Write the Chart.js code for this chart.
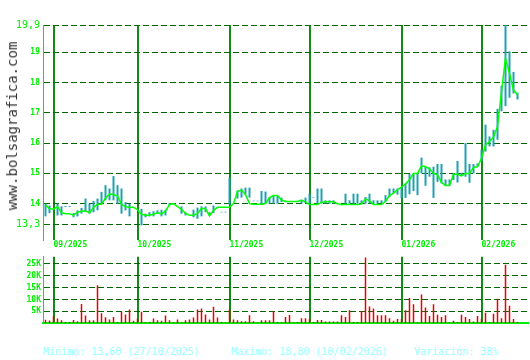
<!DOCTYPE html>
<html>
<head>
<meta charset="utf-8">
<script src="https://cdn.jsdelivr.net/npm/chart.js@4.4.1/dist/chart.umd.min.js"></script>
<style>
  body { margin: 0; background: #fff; }
  #wrap { position: relative; width: 530px; height: 360px; overflow: hidden; }
  canvas { position: absolute; left: 0; }
  #priceChart { top: 0; }
  #volChart { top: 250px; }
  .mark { position: absolute; left: 12px; top: 126px; transform: translate(-50%, -50%) rotate(-90deg);
          font: 14px "DejaVu Sans Mono", monospace; color: #333; white-space: nowrap; }
  .foot { position: absolute; top: 346px; font: 10px "DejaVu Sans Mono", monospace; color: #99ffff;
          line-height: 12px; white-space: nowrap; }
</style>
</head>
<body>
<div id="wrap">
  <canvas id="priceChart" width="530" height="250"></canvas>
  <canvas id="volChart" width="530" height="80"></canvas>
  <div class="mark">www.bolsagrafica.com</div>
  <div class="foot" style="left:43px">Minimo: 13,60 (27/10/2025)</div>
  <div class="foot" style="left:231px">Maximo: 18,80 (10/02/2026)</div>
  <div class="foot" style="left:414px">Variación: 38%</div>
</div>
<script>
// month ticks (index of first session of each month)
const monthLabels = ['09/2025', '10/2025', '11/2025', '12/2025', '01/2026', '02/2026'];
const monthStarts = [2, 23, 46, 66, 89, 109];

// daily close
const close = [
  13.95, 13.83, 13.82, 13.9, 13.7, 13.67, 13.67, 13.62, 13.72, 13.75,
  13.76, 13.7, 13.88, 13.98, 13.98, 14.18, 14.32, 14.3, 14.25, 13.98,
  13.9, 13.88, 13.88, 13.8, 13.65, 13.62, 13.62, 13.65, 13.7, 13.66,
  13.75, 13.97, 14.0, 13.9, 13.81, 13.68, 13.62, 13.62, 13.68, 13.85,
  13.83, 13.6, 13.78, 13.88, 13.88, 13.88, 13.88, 14.0, 14.4, 14.45,
  14.3, 14.0, 13.98, 13.98, 13.98, 14.0, 14.2, 14.27, 14.27, 14.12,
  14.07, 14.07, 14.07, 14.07, 14.12, 14.05, 13.97, 13.97, 13.97, 14.05,
  14.06, 14.06, 14.06, 14.0, 13.97, 13.97, 13.97, 13.97, 13.97, 13.99,
  14.15, 14.1, 13.97, 13.97, 13.97, 14.08, 14.27, 14.35, 14.46, 14.55,
  14.65, 14.8, 15.0, 15.0, 15.25, 15.22, 15.15, 15.0, 14.95, 14.7,
  14.6, 14.6, 14.98, 14.97, 14.92, 15.0, 15.0, 15.2, 15.22, 15.5,
  15.94, 16.05, 16.2, 16.55, 17.7, 18.8, 18.3, 17.75, 17.6
];
// daily low / high
const low = [
  13.58, 13.69, 13.82, 13.61, 13.61, 13.89, 13.89, 13.55, 13.58, 13.67,
  13.72, 13.67, 13.72, 13.78, 14.0, 14.11, 14.11, 14.11, 14.0, 13.67,
  13.78, 13.58, 13.88, 13.8, 13.28, 13.55, 13.58, 13.58, 13.67, 13.58,
  13.61, 13.95, 14.0, 13.9, 13.67, 13.61, 13.62, 13.55, 13.5, 13.58,
  13.72, 13.61, 13.69, 13.88, 13.71, 13.71, 13.97, 14.0, 14.17, 14.2,
  14.3, 14.2, 14.08, 14.08, 13.97, 14.0, 14.0, 14.0, 14.0, 14.05,
  14.05, 14.07, 14.07, 14.07, 14.0, 14.02, 14.0, 14.19, 14.0, 14.0,
  14.0, 14.0, 14.0, 14.0, 13.97, 14.0, 14.0, 14.0, 14.0, 14.0,
  14.0, 14.0, 14.0, 14.0, 14.0, 14.05, 14.22, 14.33, 14.3, 14.17,
  14.19, 14.31, 14.42, 14.28, 15.0, 14.59, 14.89, 14.19, 14.72, 14.67,
  14.59, 14.59, 14.78, 14.7, 14.91, 14.89, 14.69, 15.0, 15.22, 15.39,
  15.72, 15.89, 15.89, 16.11, 17.05, 17.22, 17.5, 17.64, 17.44
];
const high = [
  14.0, 13.94, 13.82, 14.0, 13.91, 13.92, 13.92, 13.69, 13.78, 13.86,
  14.17, 14.0, 14.09, 14.17, 14.39, 14.61, 14.5, 14.91, 14.61, 14.5,
  14.05, 14.0, 13.88, 13.8, 13.83, 13.67, 13.72, 13.75, 13.78, 13.8,
  13.8, 14.02, 14.0, 13.9, 13.91, 13.72, 13.62, 13.8, 13.87, 13.91,
  13.91, 13.72, 13.94, 13.88, 13.73, 13.73, 14.85, 14.0, 14.44, 14.5,
  14.53, 14.53, 14.1, 14.1, 14.42, 14.4, 14.22, 14.28, 14.25, 14.2,
  14.1, 14.07, 14.07, 14.07, 14.11, 14.2, 14.33, 14.21, 14.5, 14.5,
  14.11, 14.11, 14.11, 14.0, 13.97, 14.33, 14.11, 14.33, 14.33, 14.11,
  14.22, 14.33, 14.11, 14.11, 14.11, 14.28, 14.5, 14.5, 14.5, 14.55,
  14.67, 14.98, 15.0, 15.0, 15.52, 15.22, 15.2, 15.22, 15.31, 15.31,
  14.8, 14.8, 15.0, 15.41, 15.02, 16.0, 15.31, 15.31, 15.33, 15.78,
  16.61, 16.22, 16.44, 17.13, 17.89, 19.9, 19.03, 18.35, 17.67
];
// daily volume, thousands
const volumeK = [
  1.5, 1.1, 3.0, 2.0, 1.2, 0.5, 0.5, 1.4, 0.8, 8.1,
  3.2, 1.2, 1.2, 16.0, 4.2, 2.5, 1.6, 2.6, 0.5, 4.8,
  3.7, 5.8, 1.0, 2.0, 4.8, 0.4, 0.5, 2.0, 1.2, 1.0,
  3.2, 1.2, 0.4, 1.6, 0.4, 1.2, 1.6, 2.4, 5.8, 6.2,
  3.7, 1.6, 6.9, 2.4, 0.5, 0.3, 5.8, 1.6, 1.2, 0.8,
  0.8, 3.3, 0.8, 0.3, 1.2, 1.2, 1.2, 5.0, 0.5, 0.4,
  2.6, 3.5, 0.3, 0.5, 2.1, 2.1, 1.8, 0.5, 1.4, 1.4,
  0.7, 0.7, 0.7, 0.7, 3.3, 2.6, 5.5, 0.5, 0.5, 5.1,
  27.7, 7.0, 6.2, 3.3, 3.3, 3.3, 2.1, 1.0, 1.8, 1.8,
  5.5, 10.6, 8.0, 0.4, 12.1, 6.6, 3.0, 8.0, 3.6, 2.6,
  3.3, 0.4, 1.0, 0.5, 3.6, 2.6, 1.8, 0.7, 3.0, 1.8,
  4.4, 0.5, 4.0, 10.3, 2.1, 24.7, 7.4, 1.8, 0.5
];
const priceTicks = [13.3, 14, 15, 16, 17, 18, 19, 19.9];
const volumeTicks = [5, 10, 15, 20, 25];

const GREEN = '#00ee00';
const GRID = '#006600';
const MONTH = '#138a13';
const MONO = '"DejaVu Sans Mono", monospace';

// shared x axis (session index)
function xAxis(showLabels) {
    return {
        type: 'linear',
        min: -0.625,
        max: 120.625,
        offset: false,
        afterBuildTicks: s => { s.ticks = monthStarts.map(v => ({ value: v })); },
        afterFit: s => { s.height = showLabels ? 10 : 0; },
        ticks: {
            display: showLabels,
            autoSkip: false,
            maxRotation: 0,
            align: 'start',
            padding: 0,
            color: GREEN,
            font: { family: MONO, size: 8, weight: 'bold' },
            callback: v => monthLabels[monthStarts.indexOf(v)]
        },
        grid: { offset: false, drawTicks: false, color: MONTH, lineWidth: 2 },
        border: { display: !showLabels, color: GREEN, width: 2 }
    };
}

new Chart(document.getElementById('priceChart'), {
    type: 'line',
    data: {
        datasets: [{
            type: 'line',
            data: close.map((c, i) => ({ x: i, y: c })),
            borderColor: '#00ff00',
            borderWidth: 1.5,
            pointRadius: 0,
            tension: 0,
            order: 0
        }, {
            type: 'bar',
            data: high.map((h, i) => ({ x: i, y: [low[i], h] })),
            backgroundColor: '#20a0b0',
            barThickness: 2,
            inflateAmount: 0,
            order: 1
        }]
    },
    options: {
        responsive: false,
        animation: false,
        layout: { padding: { top: 25, right: 2, left: 0, bottom: 0 } },
        plugins: { legend: { display: false }, tooltip: { enabled: false } },
        scales: {
            x: xAxis(true),
            y: {
                min: 12.8,
                max: 19.9,
                afterBuildTicks: s => { s.ticks = priceTicks.map(v => ({ value: v })); },
                afterFit: s => { s.width = 43; },
                ticks: {
                    padding: 3,
                    color: GREEN,
                    font: ctx => (ctx.tick && !Number.isInteger(ctx.tick.value))
                        ? { family: MONO, size: 10 }
                        : { family: MONO, size: 8, weight: 'bold' },
                    callback: v => String(v).replace('.', ',')
                },
                grid: { drawTicks: false, color: GRID, lineWidth: 1 },
                border: { color: GREEN, width: 1, dash: [6, 3] }
            }
        }
    }
});

new Chart(document.getElementById('volChart'), {
    type: 'bar',
    data: {
        datasets: [{
            data: volumeK.map((v, i) => ({ x: i, y: v })),
            backgroundColor: '#ee0000',
            barThickness: 1.5,
            inflateAmount: 0
        }]
    },
    options: {
        responsive: false,
        animation: false,
        layout: { padding: { top: 0, right: 2, left: 0, bottom: 4 } },
        plugins: { legend: { display: false }, tooltip: { enabled: false } },
        scales: {
            x: xAxis(false),
            y: {
                min: 0,
                max: 28,
                afterBuildTicks: s => { s.ticks = volumeTicks.map(v => ({ value: v })); },
                afterFit: s => { s.width = 43; },
                ticks: {
                    padding: 2,
                    color: GREEN,
                    font: { family: MONO, size: 8, weight: 'bold' },
                    callback: v => v + 'K'
                },
                grid: { drawTicks: false, color: GRID, lineWidth: 1 },
                border: { color: GREEN, width: 1, dash: [6, 3] }
            }
        }
    }
});
</script>
</body>
</html>
